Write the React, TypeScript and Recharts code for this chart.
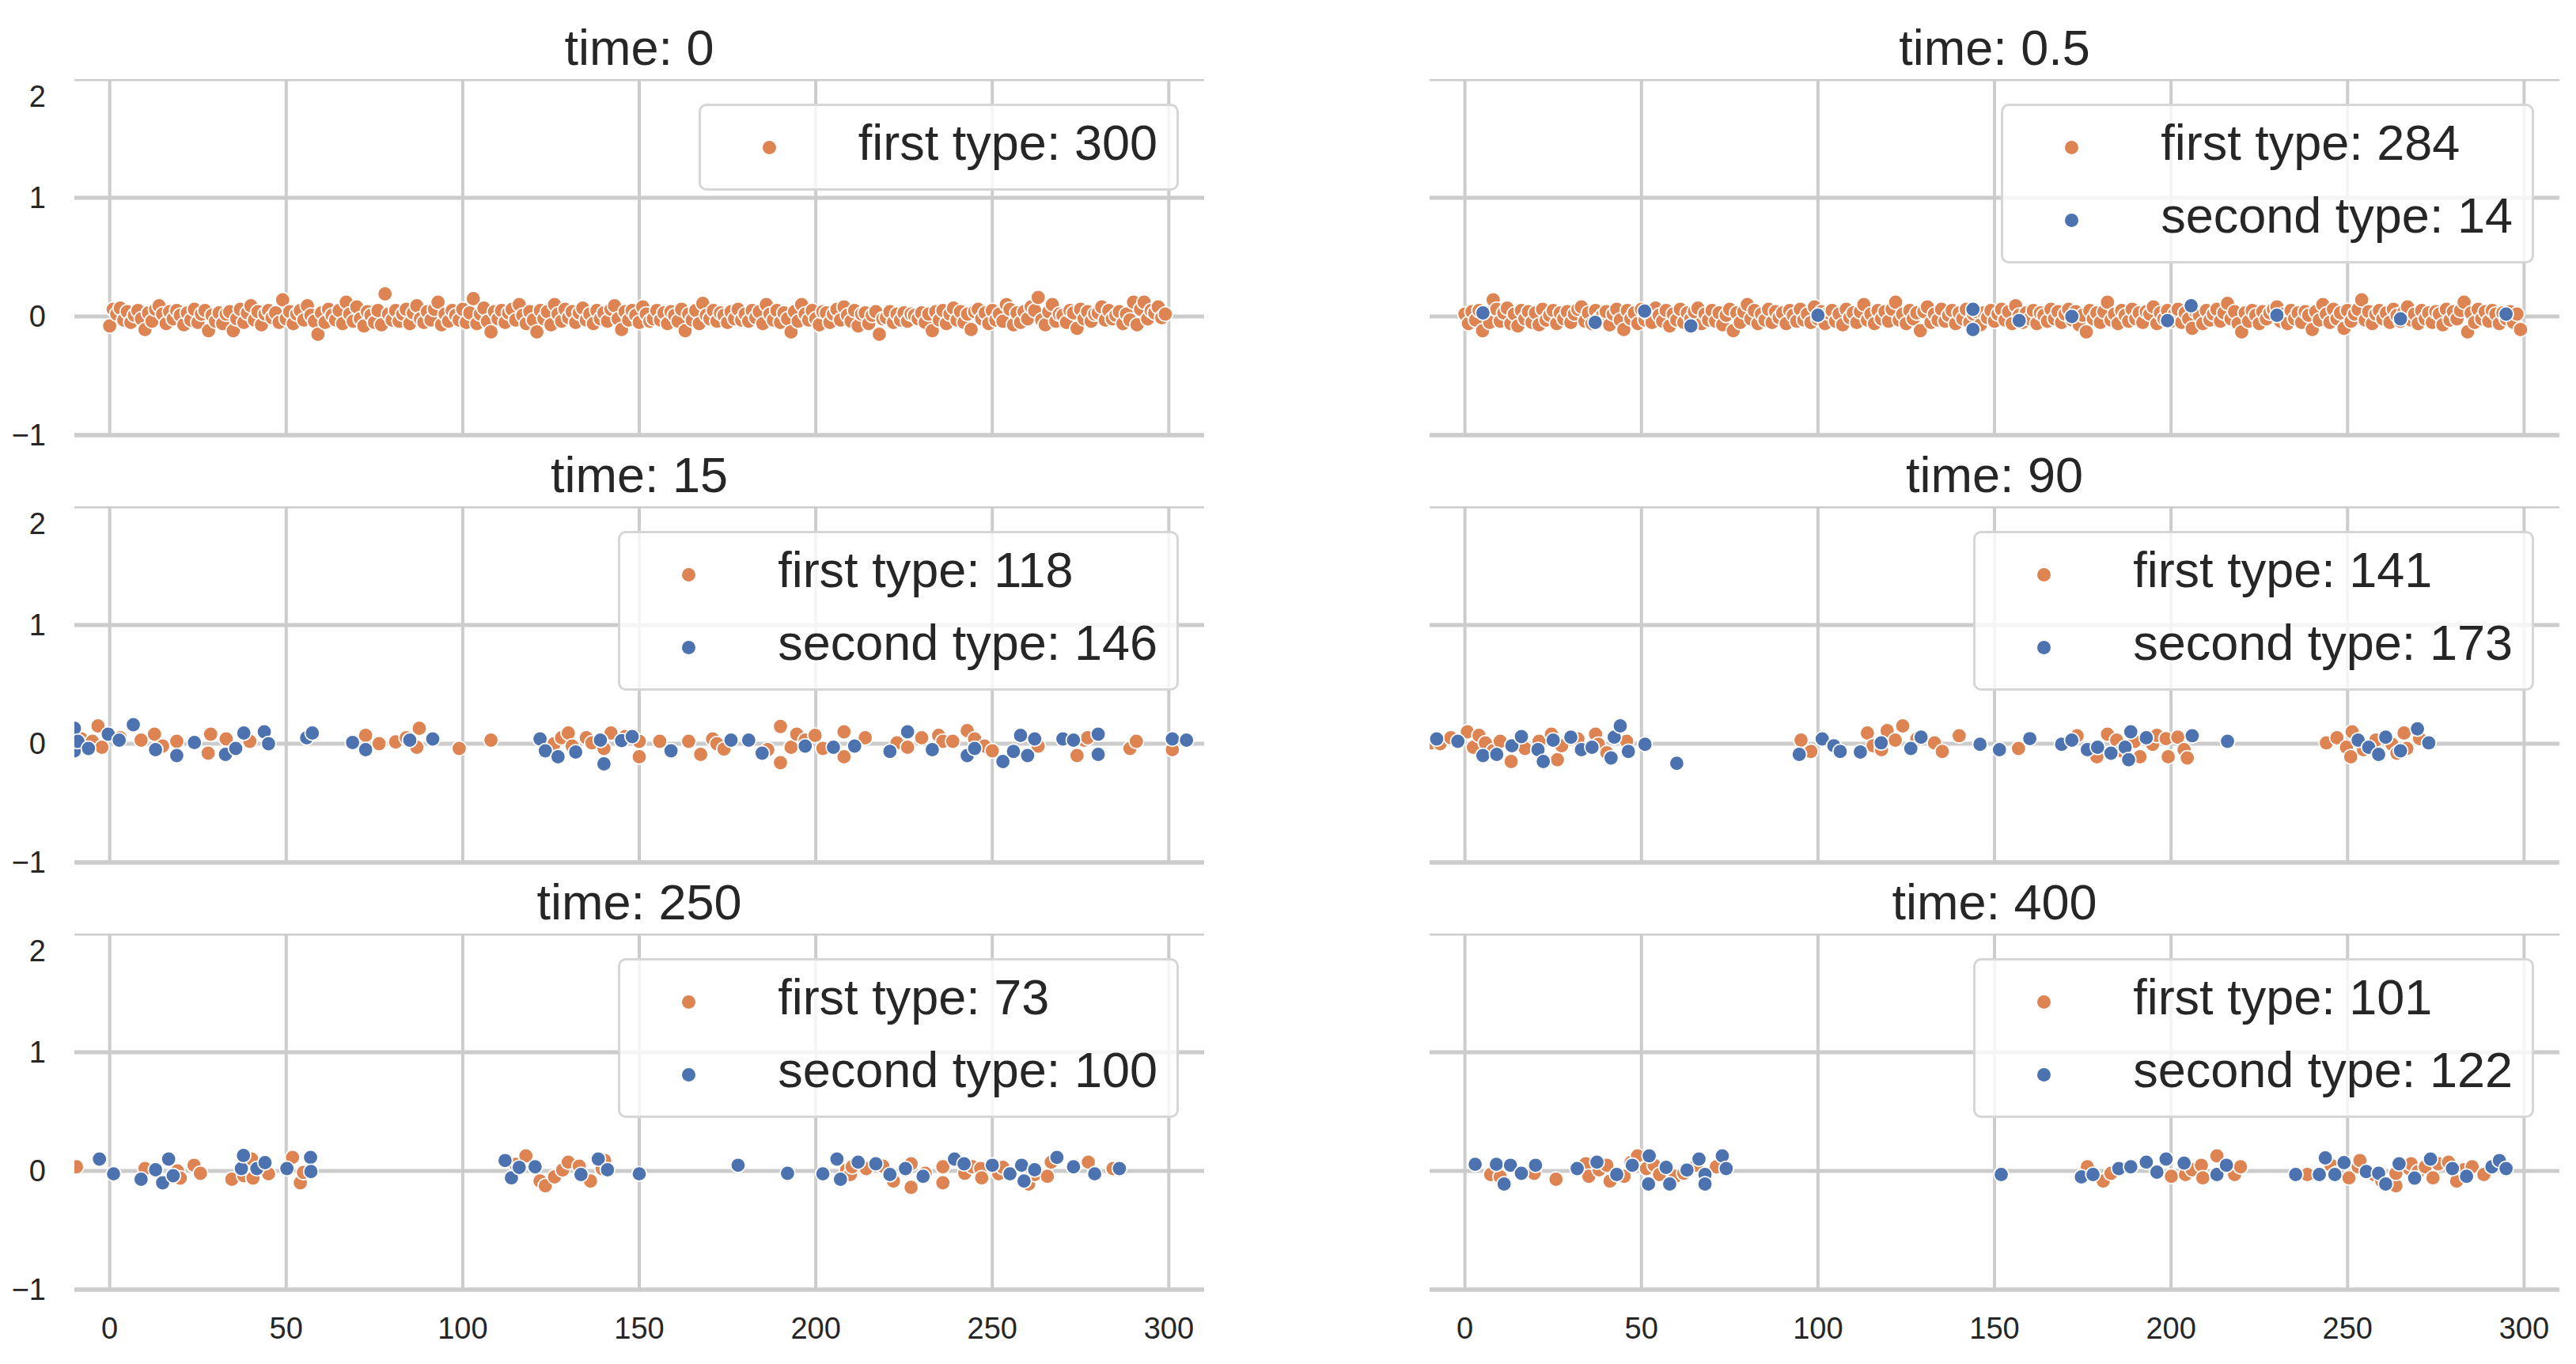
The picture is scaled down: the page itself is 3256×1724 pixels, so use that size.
import React from 'react'
import { ScatterChart, Scatter, XAxis, YAxis, CartesianGrid } from 'recharts'

const FIRST_COLOR = '#dd8452'
const SECOND_COLOR = '#4c72b0'
const FONT = '"Liberation Sans", Arial, Helvetica, sans-serif'

const xTicks = [0, 50, 100, 150, 200, 250, 300]
const yTicks = [-1, 0, 1, 2]

// time 0: one particle per x position 0..299
const t0FirstY = [
  -.08, .06, .02, .07, -.03, .04, -.05, .01, .05, -.02,
  -.11, .03, -.04, .06, .09, .02, -.06, .04, -.02, .05,
  .01, -.07, .03, -.03, .06, -.05, .02, .05, -.12, .01,
  -.04, .03, -.06, .02, .04, -.12, -.02, .06, -.05, .03,
  .09, -.03, .04, -.07, .02, .05, -.01, .03, -.05, .14,
  -.02, .04, -.06, .02, .05, -.03, .09, .01, -.04, -.15,
  .03, -.05, .06, .01, -.03, .05, -.06, .12, .02, -.04,
  .08, -.02, -.08, .04, .01, -.05, .05, -.07, .19, .02,
  -.03, .05, -.04, .02, .06, -.06, .03, .09, -.02, -.05,
  .04, -.03, .06, .12, -.07, .02, -.04, .05, .01, -.03,
  .06, -.05, .03, .15, -.06, .02, .07, -.04, -.13, .04,
  -.02, .05, -.05, .03, .06, -.03, .10, .01, -.06, .04,
  -.03, -.13, .05, -.02, .04, -.07, .10, .02, -.04, .06,
  -.01, .04, -.05, .03, .07, -.03, .02, -.06, .05, -.02,
  .03, -.04, .06, .09, -.02, -.11, .04, -.03, .05, .01,
  -.05, .08, .02, -.04, -.02, .05, -.03, .03, -.06, .04,
  .01, -.04, .06, -.12, .02, -.03, .05, -.06, .11, .01,
  -.02, .05, -.04, .03, .01, -.05, .04, -.02, .06, -.03,
  .02, -.04, .05, -.01, .04, -.06, .10, .02, -.03, .05,
  -.05, .03, -.02, -.13, .04, -.04, .10, .02, -.03, .05,
  -.02, -.07, .04, .03, -.05, .02, .06, -.03, .08, .01,
  -.04, .05, -.08, .02, .03, -.06, .01, .04, -.15, -.02,
  -.01, .04, -.05, .02, -.03, .03, -.04, .02, .01, -.02,
  .03, -.05, .02, -.12, .04, -.03, .05, -.06, .02, .07,
  -.03, .04, -.05, .02, -.11, .04, .06, -.02, .03, -.06,
  .05, -.03, .02, -.04, .10, .06, -.07, .03, -.05, .04,
  -.02, .08, .05, .16, -.03, -.07, .04, .10, -.04, .02,
  .01, -.05, .05, .03, -.10, .06, -.02, .04, -.04, .02,
  .03, .08, -.03, .05, -.02, .01, .04, -.06, .02, -.03,
  .12, -.07, .06, .12, -.02, .05, .03, .08, -.01, .02,
]

// time 0.5
const t05FirstY = [
  .02, -.06, .04, -.03, .05, -.12, .03, -.05, .14, .06,
  -.04, .03, .07, -.06, .02, -.08, .05, -.02, .04, -.05,
  .03, -.07, .06, -.03, .01, .05, -.06, .03, -.02, .04,
  -.05, .02, .06, .08, -.04, .03, -.06, .05, -.02, .01,
  .04, -.07, .02, .06, -.03, -.11, .05, -.02, .03, -.06,
  .06, -.03, .02, -.05, .07, .01, -.04, .05, -.08, .02,
  -.03, .06, -.05, .03, -.02, .04, .07, -.06, .02, -.03,
  .05, -.04, .03, -.07, .01, .06, -.12, .03, -.05, .04,
  .10, -.02, .05, -.06, .02, -.03, .06, -.05, .04, -.01,
  .03, -.06, .05, .01, -.04, .06, -.03, .02, -.05, .08,
  -.02, .04, -.06, .03, .05, -.04, .02, -.07, .06, -.01,
  .03, -.05, .04, .10, -.03, .02, -.06, .05, -.02, .04,
  -.04, .06, .12, -.03, .02, -.06, .05, -.02, .03, -.12,
  .04, .08, -.05, .02, -.03, .06, -.04, .01, .05, -.06,
  .03, -.02, .06, -.05, .02, .04, -.07, .03, -.01, .05,
  -.04, .02, .06, -.03, .04, -.06, .09, .01, -.05, .03,
  -.02, .05, -.06, .03, .01, -.04, .06, -.02, .04, -.05,
  .02, .06, -.03, .04, -.07, .01, -.13, .05, -.02, .03,
  -.05, .04, .12, -.03, .02, -.06, .05, .01, -.04, .06,
  -.02, .03, -.05, .04, .02, .08, -.06, .03, -.02, .05,
  -.04, .02, .06, -.05, .03, -.02, -.10, .04, .01, -.06,
  .05, -.03, .02, .06, -.04, .03, .11, -.02, .04, -.06,
  -.13, .03, -.04, .05, .01, -.06, .04, -.02, .03, .06,
  .08, -.04, .02, -.06, .05, -.02, .03, -.05, .04, .01,
  -.11, .04, -.03, .10, .02, -.05, .06, -.02, .03, -.10,
  .05, -.04, .02, .06, .14, -.03, .04, -.06, .02, .05,
  -.02, .03, -.05, .06, .01, -.04, .04, .08, -.03, .02,
  -.06, .05, -.02, .03, -.05, .04, .02, -.07, .06, -.03,
  .04, -.02, .05, .12, -.13, .03, -.05, .06, -.02, .04,
  -.04, .05, .02, -.06, .03, -.02, .04, -.05, .02, -.11,
]
const t05Second = [
  [5.1, .03], [36.9, -.05], [50.9, .045], [64, -.08], [100, .01], [143.9, .06], [143.9, -.11],
  [157, -.035], [171.9, 0], [199, -.035], [205.7, .09], [230, .01], [265, -.02], [294.9, .02],
]

// time 15
const t15First = [
  [-8, .04], [-4.9, .02], [-3.3, .15], [-2.2, -.03], [3, .05], [8.9, .03], [12.7, .08], [15, -.02],
  [19, .02], [27.9, -.08], [28.6, .08], [33, .04], [39.7, .02], [72.5, .07], [76.3, 0], [81, .015],
  [84, .05], [87.7, .13], [87, -.03], [99, -.04], [108, .03], [125.9, 0], [128, .05], [129.9, .09],
  [131, -.02], [135, .05], [136.6, .007], [140, -.04], [142, .09], [146, .06], [150, .02], [150, -.11],
  [155.8, .02], [164, .02], [167.4, -.09], [170.8, .04], [172, 0], [174, -.045], [186.4, -.05],
  [190, .145], [190, -.16], [193, -.03], [194.6, .08], [197, .03], [199.8, .07], [202, -.04],
  [208, .1], [208, -.11], [214, .05], [223, .007], [226, -.03], [230, .05], [234.8, .07], [236, .02],
  [238.8, .02], [242.9, .11], [245, .04], [247.8, -.02], [250, -.06], [263, -.02], [274, -.1],
  [276, .03], [277, .05], [289, -.04], [290.8, .02], [301, -.05],
]
const t15Second = [
  [-10, .13], [-10, -.06], [-9, .02], [-6, -.04], [-.4, .08], [2.7, .03], [6.7, .16], [13, -.05],
  [19, -.1], [24, .01], [32.8, -.09], [35.7, -.04], [38, .09], [43.8, .1], [45, 0], [55.8, .05],
  [57.4, .09], [68.8, .01], [72.5, -.05], [85, .03], [91.5, .04], [121.9, .04], [123.4, -.06],
  [127, -.11], [132, -.07], [139, .03], [140, -.17], [145, .026], [148, .06], [159, -.06], [176, .03],
  [181, .03], [184.8, -.08], [197, -.02], [205, -.03], [211, -.02], [221, -.065], [226, .1],
  [233, -.05], [242.9, -.1], [245, -.04], [253, -.15], [256, -.065], [258, .07], [260, -.1],
  [262, .04], [270, .04], [273, .03], [280, .08], [280, -.09], [301, .04], [305, .03],
]

// time 90
const t90First = [
  [-9.3, .007], [-7, 0], [-4, .05], [.7, .1], [2.4, -.03], [4, .07], [5.8, .007], [8, -.06], [10, .02],
  [13.1, -.15], [15.6, .055], [17, -.04], [21, .02], [24.5, .08], [26.2, -.135], [27.4, -.017],
  [32, .04], [37, .08], [37.8, -.005], [40.2, -.076], [45.8, .02], [95.2, .03], [98, -.065], [114, .09],
  [115.6, -.017], [118, -.05], [119.6, .11], [121.9, .03], [124, .15], [128, .04], [133, .007],
  [135.2, -.065], [140, .067], [156.8, -.04], [173.4, .067], [179, -.11], [182, .08], [184.6, .03],
  [186, -.06], [189.7, .02], [191.2, -.11], [194.8, -.005], [196, .07], [198.6, .043], [199.2, -.11],
  [201.9, .055], [203.7, -.05], [204.6, -.12], [244, .007], [247, .05], [249.7, -.03], [250.9, -.11],
  [251.3, .1], [254.5, -.05], [258, .03], [262.6, -.005], [264, -.08], [266, .09], [266.8, -.04],
  [270.4, .043],
]
const t90Second = [
  [-8, .04], [-2, .02], [5.1, -.1], [9, -.09], [13.3, -.017], [16, .06], [20.7, -.05], [22.2, -.15],
  [25, .03], [30, .055], [33, -.05], [36, -.03], [41.4, -.12], [42.3, .055], [44, .15], [46.3, -.065],
  [51, -.005], [60, -.165], [94.7, -.09], [101.2, .04], [104.5, -.017], [106.3, -.065], [112, -.07],
  [117.9, .007], [126.3, -.04], [129.2, .055], [145.9, -.005], [151.4, -.05], [160, .043],
  [169, -.005], [171.9, .03], [176.3, -.05], [179.2, -.03], [183, -.08], [187, -.03], [188.6, .1],
  [188, -.135], [193, .05], [206, .067], [216, .02], [253, .03], [256, -.03], [258.8, -.09],
  [260.8, .055], [265, -.06], [269.8, .125], [273, .007],
]

// time 250
const t250First = [
  [-9.4, .035], [10, .02], [17.9, -.045], [19.2, 0], [20, -.06], [23.9, .048], [25.7, -.02],
  [34.6, -.07], [38, -.04], [40.2, .1], [40.6, -.06], [45, -.024], [51.8, .114], [54, -.1],
  [54.9, -.013], [115, .056], [117.9, .127], [121.9, -.085], [123.4, -.125], [126, -.05],
  [128.3, .008], [129.9, .074], [133, .04], [136.2, -.085], [139.5, .02], [140.2, .088],
  [208.7, .008], [209.8, -.03], [210.3, .035], [214.3, .02], [219, .04], [222, -.085], [227, .06],
  [227, -.138], [231, -.02], [236, .035], [236, -.1], [242.2, -.02], [244.4, .035], [246.7, .02],
  [247, -.058], [251.8, -.024], [253, .03], [260.3, -.11], [262, -.03], [265.6, -.045], [266.7, .074],
  [277.2, .074], [284.2, .02],
]
const t250Second = [
  [-2.9, .1], [1.1, -.024], [8.9, -.07], [13, .01], [15, -.1], [16.7, .1], [18, -.04], [37.3, .02],
  [37.9, .13], [41.7, .02], [44, .07], [50.2, .02], [56.9, .114], [57, -.005], [112, .088],
  [113.8, -.058], [116, .03], [120.5, .035], [133.5, -.03], [138.4, .1], [141, .01], [150, -.024],
  [178, .048], [192, -.02], [202, -.024], [206, .1], [207, -.07], [212, .074], [217, .06], [221, -.03],
  [225.4, .02], [230.4, -.045], [239.3, .1], [242, .06], [250, .048], [255, -.024], [258.3, .048],
  [259, -.085], [262, .01], [268.3, .114], [273, .035], [279, -.024], [286, .02],
]

// time 400
const t400First = [
  [7.3, -.03], [10, -.05], [19.6, -.02], [25.8, -.07], [34.2, .06], [35.1, -.045], [38, .01],
  [40.2, .048], [41.1, -.085], [45.1, -.045], [47, .07], [48.9, .127], [51.4, .02], [53.6, .048],
  [55.1, -.03], [59.6, -.045], [62, -.02], [65.6, .048], [71.2, .035], [176.3, .035], [180.8, -.085],
  [183, -.02], [200.1, -.045], [204.1, -.03], [206, .01], [208.6, .048], [209, -.058], [213, .127],
  [218, -.03], [219.7, .035], [238.6, -.03], [245.3, .048], [247, -.02], [250.4, -.058], [253, .035],
  [253.5, .088], [257.5, -.03], [259.7, -.085], [263.7, -.125], [263.7, -.02], [267.5, .02],
  [268, .06], [270, -.005], [272, .035], [274.2, -.058], [275.7, .06], [278.6, .074], [280.9, -.085],
  [283, .01], [285.3, .035], [288.6, -.03],
]
const t400Second = [
  [2.9, .056], [8.9, .056], [11.1, -.11], [12.9, .048], [16, -.02], [20, .048], [31.8, .02],
  [37.4, .074], [43, -.03], [47.4, .048], [52.2, .127], [52, -.11], [57, .03], [58, -.11], [62.9, .008],
  [66.3, .1], [68, -.03], [68, -.11], [72.9, .127], [74, .02], [151.9, -.03], [174.6, -.05],
  [177.9, -.03], [185.2, .02], [188.6, .035], [193, .074], [196, -.01], [198.6, .1], [203.7, .066],
  [213, -.03], [215.7, .048], [235.3, -.03], [242, -.03], [243.7, .11], [246.4, -.03], [249, .07],
  [255.3, -.005], [258.8, -.02], [260.8, -.11], [264.6, .06], [269, -.06], [273.5, .1], [279.7, .02],
  [283.7, -.045], [290.9, .035], [293, .088], [294.9, .02],
]

const titles = ['time: 0', 'time: 0.5', 'time: 15', 'time: 90', 'time: 250', 'time: 400']
const firstCounts = [300, 284, 118, 141, 73, 101]
const secondCounts = [null, 14, 146, 173, 100, 122]

type Pt = { x: number; y: number }
const fromY = (ys: number[]): Pt[] => ys.map((y, i) => ({ x: i, y }))
const fromPairs = (p: number[][]): Pt[] => p.map(([x, y]) => ({ x, y }))

const firstData: Pt[][] = [
  fromY(t0FirstY), fromY(t05FirstY), fromPairs(t15First),
  fromPairs(t90First), fromPairs(t250First), fromPairs(t400First),
]
const secondData: (Pt[] | null)[] = [
  null, fromPairs(t05Second), fromPairs(t15Second),
  fromPairs(t90Second), fromPairs(t250Second), fromPairs(t400Second),
]

const PLOT_W = 1428
const PLOT_H = 450
const Y_AXIS_W = 94
const colLeft = [94, 1807]
const rowTop = [100, 640, 1180]

const tickStyle = { fill: '#262626', fontSize: 38, fontFamily: FONT }
const noTick = () => <g />

const dot = (color: string) => (props: any) => (
  <circle cx={props.cx} cy={props.cy} r={9.3} fill={color} stroke="#ffffff" strokeWidth={1.8} />
)

function LegendBox({ entries, right, top }: { entries: { color: string; label: string }[]; right: number; top: number }) {
  return (
    <div
      style={{
        position: 'absolute',
        right,
        top,
        border: '3px solid #d6d6d6',
        borderRadius: 10,
        background: 'rgba(255,255,255,0.8)',
        padding: '6px 24px 6px 78px',
        fontFamily: FONT,
        fontSize: 63,
        color: '#262626',
      }}
    >
      {entries.map((e) => (
        <div key={e.label} style={{ display: 'flex', alignItems: 'center', height: 92, whiteSpace: 'nowrap' }}>
          <span style={{ display: 'inline-block', width: 17, height: 17, borderRadius: '50%', background: e.color }} />
          <span style={{ marginLeft: 104, lineHeight: '92px', position: 'relative', top: -6 }}>{e.label}</span>
        </div>
      ))}
    </div>
  )
}

function Panel({ idx }: { idx: number }) {
  const col = idx % 2
  const row = Math.floor(idx / 2)
  const plotLeft = colLeft[col]
  const plotTop = rowTop[row]
  const showY = col === 0
  const showX = row === 2
  const second = secondData[idx]
  const entries = [{ color: FIRST_COLOR, label: `first type: ${firstCounts[idx]}` }]
  if (secondCounts[idx] !== null) entries.push({ color: SECOND_COLOR, label: `second type: ${secondCounts[idx]}` })

  return (
    <>
      <div
        style={{
          position: 'absolute',
          left: plotLeft,
          top: plotTop - 71,
          width: PLOT_W,
          textAlign: 'center',
          fontFamily: FONT,
          fontSize: 63,
          lineHeight: '63px',
          color: '#262626',
        }}
      >
        {titles[idx]}
      </div>
      <div style={{ position: 'absolute', left: plotLeft - Y_AXIS_W, top: plotTop }}>
        <ScatterChart
          width={Y_AXIS_W + PLOT_W + 10}
          height={PLOT_H + 100}
          margin={{ top: 0, right: 10, bottom: 0, left: 0 }}
        >
          <CartesianGrid horizontal={false} syncWithTicks stroke="#cccccc" strokeWidth={4} />
          <CartesianGrid vertical={false} syncWithTicks stroke="#cccccc" strokeWidth={5} />
          <XAxis
            type="number"
            dataKey="x"
            domain={[-10, 310]}
            ticks={xTicks}
            allowDataOverflow
            height={100}
            tickLine={false}
            tickSize={0}
            tickMargin={35}
            axisLine={{ stroke: '#cccccc', strokeWidth: 5 }}
            tick={showX ? tickStyle : noTick}
          />
          <YAxis
            type="number"
            dataKey="y"
            domain={[-1, 2]}
            ticks={yTicks}
            allowDataOverflow
            width={Y_AXIS_W}
            axisLine={false}
            tickLine={false}
            tickSize={0}
            tickMargin={36}
            tick={showY ? tickStyle : noTick}
            tickFormatter={(v: number) => String(v).replace('-', '\u2212')}
          />
          <Scatter data={firstData[idx]} fill={FIRST_COLOR} shape={dot(FIRST_COLOR)} isAnimationActive={false} />
          {second && (
            <Scatter data={second} fill={SECOND_COLOR} shape={dot(SECOND_COLOR)} isAnimationActive={false} />
          )}
        </ScatterChart>
      </div>
      <LegendBox entries={entries} right={3256 - (plotLeft + PLOT_W - 32)} top={plotTop + 31} />
    </>
  )
}

export default function App() {
  return (
    <div
      style={{
        position: 'absolute',
        left: 0,
        top: 0,
        width: 3256,
        height: 1724,
        background: '#ffffff',
        overflow: 'hidden',
      }}
    >
      {[0, 1, 2, 3, 4, 5].map((i) => (
        <Panel key={i} idx={i} />
      ))}
    </div>
  )
}
